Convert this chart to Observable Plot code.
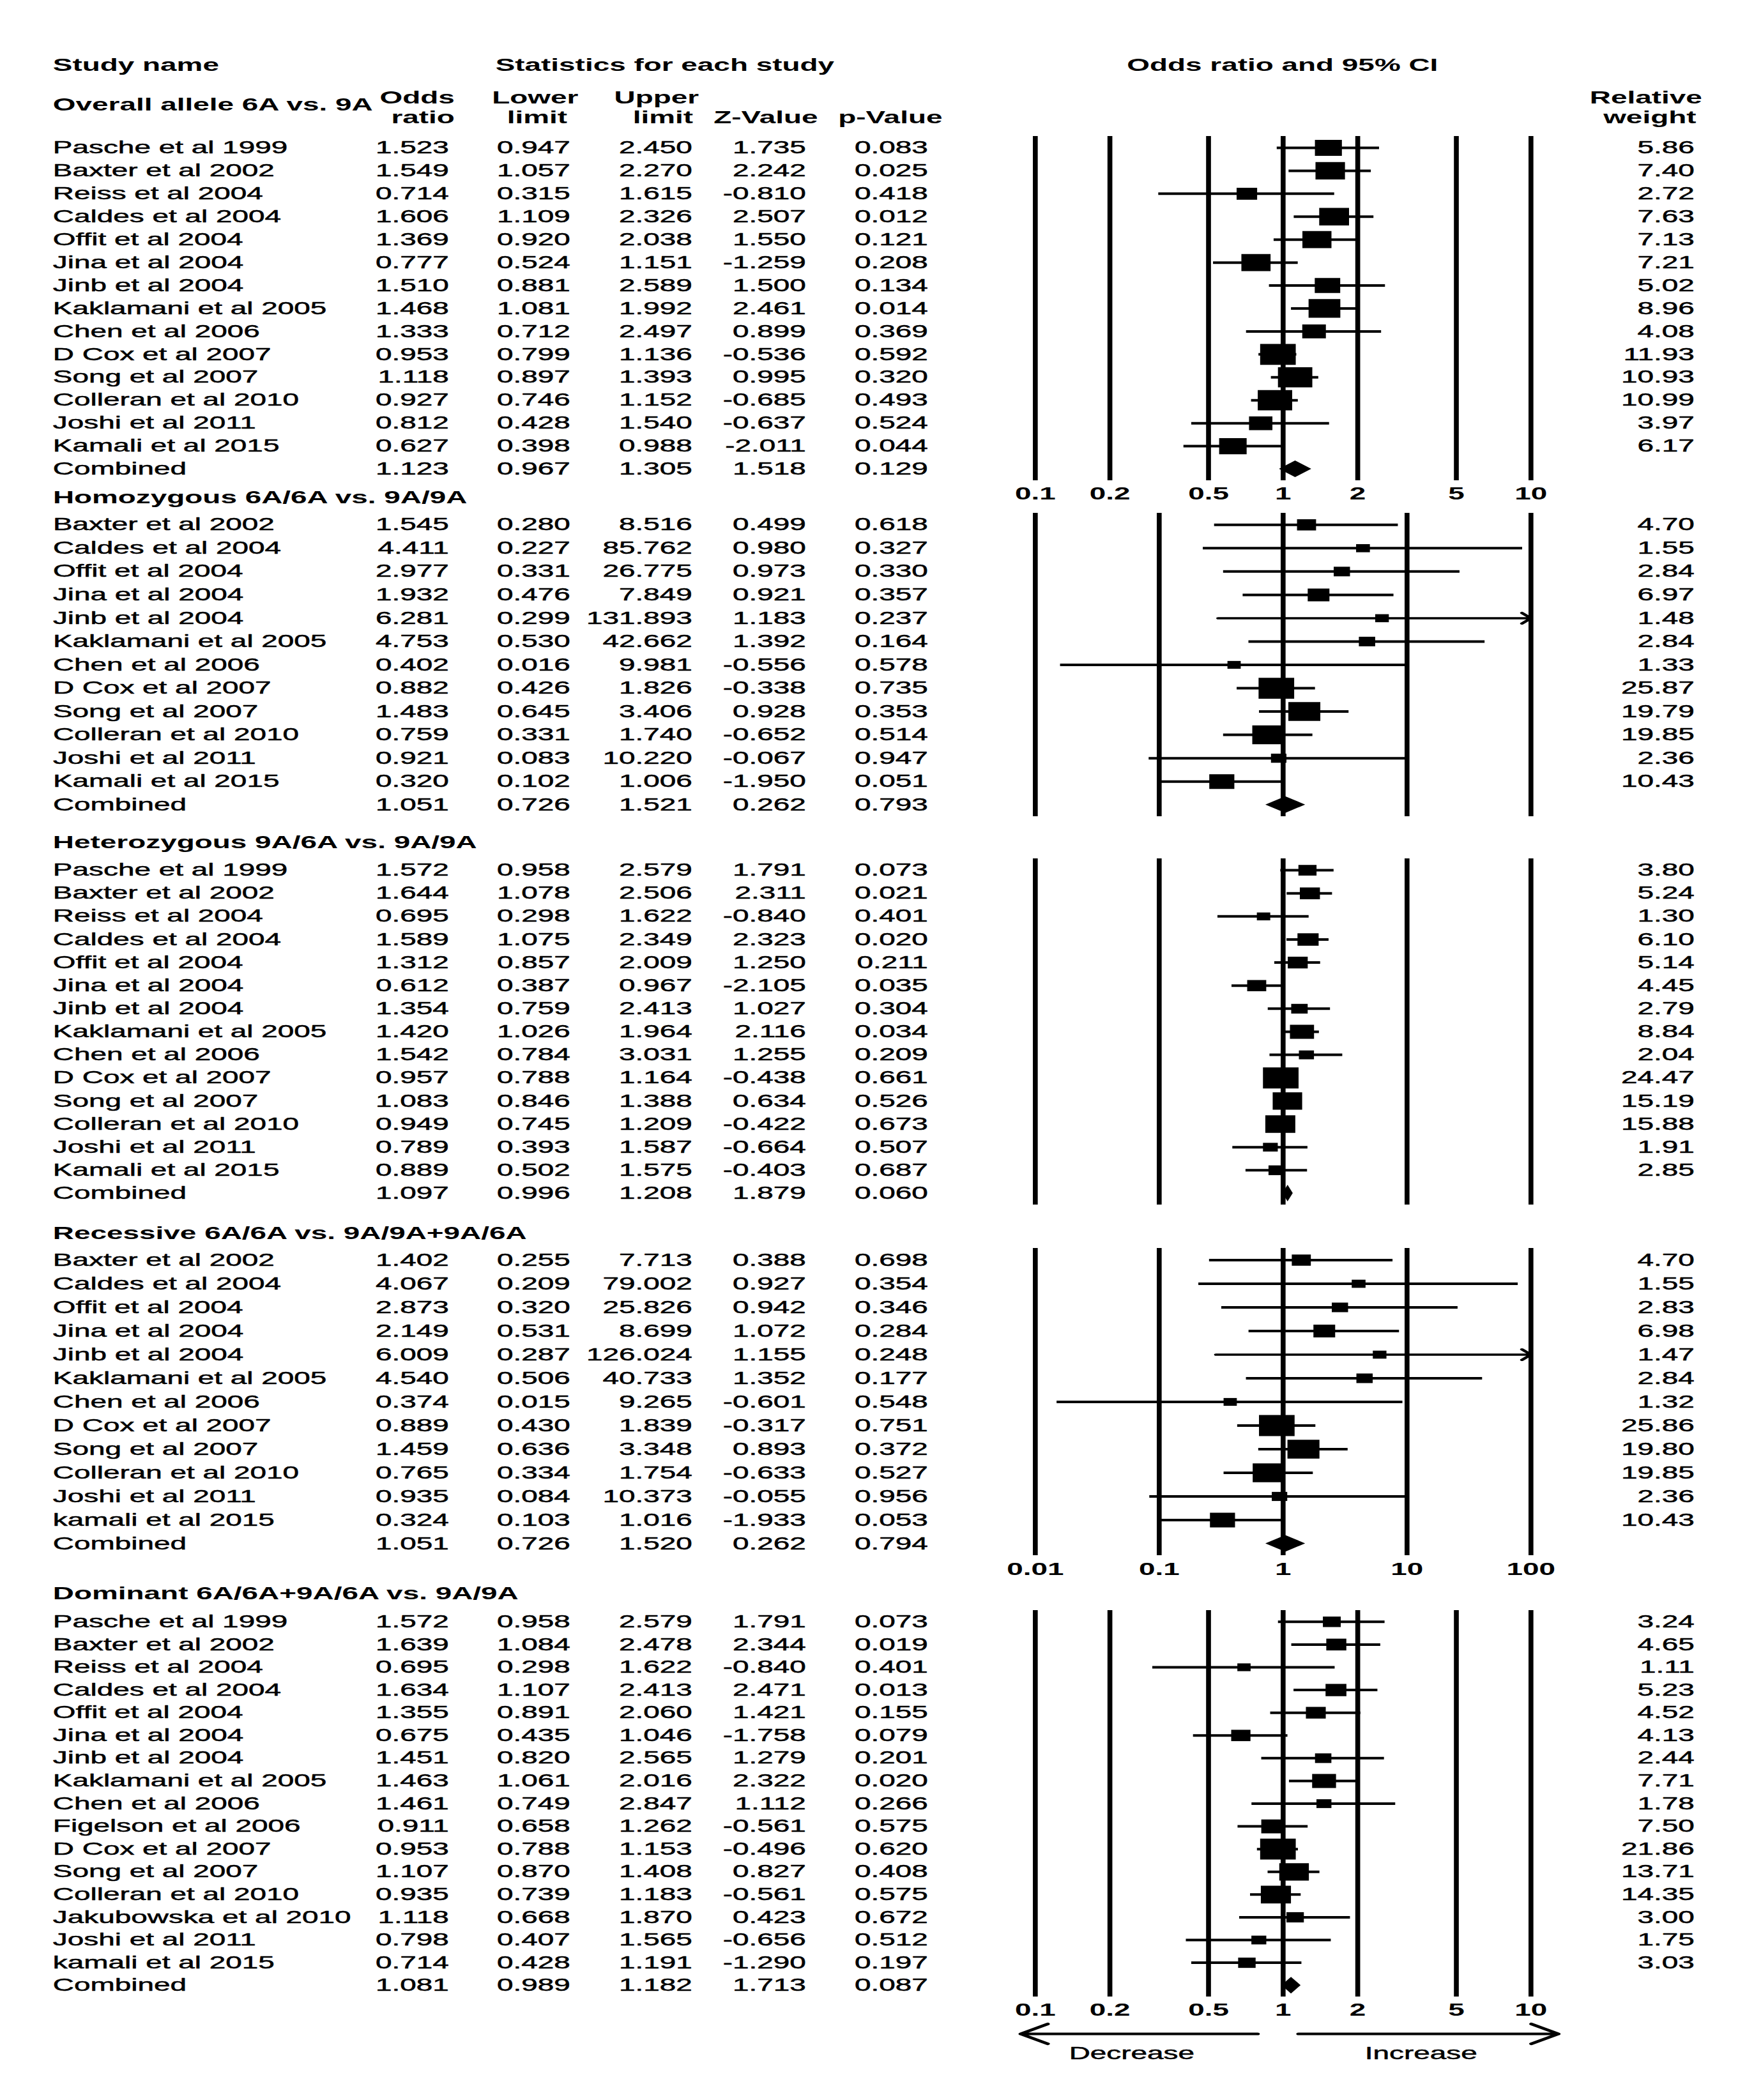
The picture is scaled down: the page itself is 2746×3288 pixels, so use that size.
<!DOCTYPE html>
<html><head><meta charset="utf-8">
<script src="https://cdn.jsdelivr.net/npm/d3@7"></script>
<script src="https://cdn.jsdelivr.net/npm/@observablehq/plot@0.6"></script>
<style>
html,body{margin:0;padding:0;background:#fff;overflow:hidden;width:2746px;height:3288px;}
#fig{position:relative;height:3288px;transform-origin:0 0;}
.sec{position:absolute;left:0;}
</style></head><body><div id="fig"></div>
<script>
// ---------------- DATA ----------------
const headerStudy = "Study name";
const headerStats = "Statistics for each study";
const headerForest = "Odds ratio and 95% CI";
const colHeads = [["Odds", "ratio"], ["Lower", "limit"], ["Upper", "limit"], ["", "Z-Value"], ["", "p-Value"]];
const weightHead = ["Relative", "weight"];
const titles = ["Overall allele 6A vs. 9A", "Homozygous 6A/6A vs. 9A/9A", "Heterozygous 9A/6A vs. 9A/9A",
  "Recessive 6A/6A vs. 9A/9A+9A/6A", "Dominant 6A/6A+9A/6A vs. 9A/9A"];
const ticksNarrow = [0.1, 0.2, 0.5, 1, 2, 5, 10];
const ticksWide = [0.01, 0.1, 1, 10, 100];
const directionLabels = ["Decrease", "Increase"];

const names1 = ["Pasche et al 1999","Baxter et al 2002","Reiss et al 2004","Caldes et al 2004","Offit et al 2004","Jina et al 2004","Jinb et al 2004","Kaklamani et al 2005","Chen et al 2006","D Cox et al 2007","Song et al 2007","Colleran et al 2010","Joshi et al 2011","Kamali et al 2015","Combined"];
const or1 = [1.523,1.549,0.714,1.606,1.369,0.777,1.510,1.468,1.333,0.953,1.118,0.927,0.812,0.627,1.123];
const lo1 = [0.947,1.057,0.315,1.109,0.920,0.524,0.881,1.081,0.712,0.799,0.897,0.746,0.428,0.398,0.967];
const hi1 = [2.450,2.270,1.615,2.326,2.038,1.151,2.589,1.992,2.497,1.136,1.393,1.152,1.540,0.988,1.305];
const z1 = [1.735,2.242,-0.810,2.507,1.550,-1.259,1.500,2.461,0.899,-0.536,0.995,-0.685,-0.637,-2.011,1.518];
const p1 = [0.083,0.025,0.418,0.012,0.121,0.208,0.134,0.014,0.369,0.592,0.320,0.493,0.524,0.044,0.129];
const w1 = [5.86,7.40,2.72,7.63,7.13,7.21,5.02,8.96,4.08,11.93,10.93,10.99,3.97,6.17];

const names2 = ["Baxter et al 2002","Caldes et al 2004","Offit et al 2004","Jina et al 2004","Jinb et al 2004","Kaklamani et al 2005","Chen et al 2006","D Cox et al 2007","Song et al 2007","Colleran et al 2010","Joshi et al 2011","Kamali et al 2015","Combined"];
const or2 = [1.545,4.411,2.977,1.932,6.281,4.753,0.402,0.882,1.483,0.759,0.921,0.320,1.051];
const lo2 = [0.280,0.227,0.331,0.476,0.299,0.530,0.016,0.426,0.645,0.331,0.083,0.102,0.726];
const hi2 = [8.516,85.762,26.775,7.849,131.893,42.662,9.981,1.826,3.406,1.740,10.220,1.006,1.521];
const z2 = [0.499,0.980,0.973,0.921,1.183,1.392,-0.556,-0.338,0.928,-0.652,-0.067,-1.950,0.262];
const p2 = [0.618,0.327,0.330,0.357,0.237,0.164,0.578,0.735,0.353,0.514,0.947,0.051,0.793];
const w2 = [4.70,1.55,2.84,6.97,1.48,2.84,1.33,25.87,19.79,19.85,2.36,10.43];

const names3 = ["Pasche et al 1999","Baxter et al 2002","Reiss et al 2004","Caldes et al 2004","Offit et al 2004","Jina et al 2004","Jinb et al 2004","Kaklamani et al 2005","Chen et al 2006","D Cox et al 2007","Song et al 2007","Colleran et al 2010","Joshi et al 2011","Kamali et al 2015","Combined"];
const or3 = [1.572,1.644,0.695,1.589,1.312,0.612,1.354,1.420,1.542,0.957,1.083,0.949,0.789,0.889,1.097];
const lo3 = [0.958,1.078,0.298,1.075,0.857,0.387,0.759,1.026,0.784,0.788,0.846,0.745,0.393,0.502,0.996];
const hi3 = [2.579,2.506,1.622,2.349,2.009,0.967,2.413,1.964,3.031,1.164,1.388,1.209,1.587,1.575,1.208];
const z3 = [1.791,2.311,-0.840,2.323,1.250,-2.105,1.027,2.116,1.255,-0.438,0.634,-0.422,-0.664,-0.403,1.879];
const p3 = [0.073,0.021,0.401,0.020,0.211,0.035,0.304,0.034,0.209,0.661,0.526,0.673,0.507,0.687,0.060];
const w3 = [3.80,5.24,1.30,6.10,5.14,4.45,2.79,8.84,2.04,24.47,15.19,15.88,1.91,2.85];

const names4 = ["Baxter et al 2002","Caldes et al 2004","Offit et al 2004","Jina et al 2004","Jinb et al 2004","Kaklamani et al 2005","Chen et al 2006","D Cox et al 2007","Song et al 2007","Colleran et al 2010","Joshi et al 2011","kamali et al 2015","Combined"];
const or4 = [1.402,4.067,2.873,2.149,6.009,4.540,0.374,0.889,1.459,0.765,0.935,0.324,1.051];
const lo4 = [0.255,0.209,0.320,0.531,0.287,0.506,0.015,0.430,0.636,0.334,0.084,0.103,0.726];
const hi4 = [7.713,79.002,25.826,8.699,126.024,40.733,9.265,1.839,3.348,1.754,10.373,1.016,1.520];
const z4 = [0.388,0.927,0.942,1.072,1.155,1.352,-0.601,-0.317,0.893,-0.633,-0.055,-1.933,0.262];
const p4 = [0.698,0.354,0.346,0.284,0.248,0.177,0.548,0.751,0.372,0.527,0.956,0.053,0.794];
const w4 = [4.70,1.55,2.83,6.98,1.47,2.84,1.32,25.86,19.80,19.85,2.36,10.43];

const names5 = ["Pasche et al 1999","Baxter et al 2002","Reiss et al 2004","Caldes et al 2004","Offit et al 2004","Jina et al 2004","Jinb et al 2004","Kaklamani et al 2005","Chen et al 2006","Figelson et al 2006","D Cox et al 2007","Song et al 2007","Colleran et al 2010","Jakubowska et al 2010","Joshi et al 2011","kamali et al 2015","Combined"];
const or5 = [1.572,1.639,0.695,1.634,1.355,0.675,1.451,1.463,1.461,0.911,0.953,1.107,0.935,1.118,0.798,0.714,1.081];
const lo5 = [0.958,1.084,0.298,1.107,0.891,0.435,0.820,1.061,0.749,0.658,0.788,0.870,0.739,0.668,0.407,0.428,0.989];
const hi5 = [2.579,2.478,1.622,2.413,2.060,1.046,2.565,2.016,2.847,1.262,1.153,1.408,1.183,1.870,1.565,1.191,1.182];
const z5 = [1.791,2.344,-0.840,2.471,1.421,-1.758,1.279,2.322,1.112,-0.561,-0.496,0.827,-0.561,0.423,-0.656,-1.290,1.713];
const p5 = [0.073,0.019,0.401,0.013,0.155,0.079,0.201,0.020,0.266,0.575,0.620,0.408,0.575,0.672,0.512,0.197,0.087];
const w5 = [3.24,4.65,1.11,5.23,4.52,4.13,2.44,7.71,1.78,7.50,21.86,13.71,14.35,3.00,1.75,3.03];

// ---------------- LAYOUT ----------------
const S = 1.7;               // horizontal stretch of the original figure
const W = 2746 / S;          // unstretched width
const FONT = "'Liberation Sans', Arial, Helvetica, sans-serif";
const FS = 27;
const panelL = 1620, panelR = 2396;
const colRight = {or: 702, lo: 892, hi: 1083, z: 1261, p: 1452};
const nameX = 82, weightRight = 2652;
const heavy = {fill: "black", stroke: "black", strokeWidth: 0.5};   // the original's body text is slightly heavier

const fig = document.getElementById("fig");
fig.style.width = W + "px";
fig.style.transform = `scaleX(${S})`;

function section(cfg) {
  const {names, or, lo, hi, z, p, w, ticks, top, height, lineTop, lineBottom, title, titleY, axisY, extra} = cfg;
  const n = names.length;
  const ml = panelL / S, mr = W - panelR / S;
  const step = (lineBottom - lineTop) / n;
  const rows = names.map((name, i) => ({name, i, or: or[i], lo: lo[i], hi: hi[i], z: z[i], p: p[i], w: w[i]}));
  const studies = rows.filter(d => d.w !== undefined);
  const combined = rows.filter(d => d.w === undefined);
  const xmin = ticks[0], xmax = ticks[ticks.length - 1];
  const inside = studies.filter(d => d.hi <= xmax);
  const over = studies.filter(d => d.hi > xmax);
  const dh = 13 / step;
  const diamond = combined.flatMap(d => [
    {y: d.i - dh, x1: d.or, x2: d.or},
    {y: d.i, x1: d.lo, x2: d.hi},
    {y: d.i + dh, x1: d.or, x2: d.or}
  ]);
  const colX = full => full / S - ml;
  const txt = {fontSize: FS, frameAnchor: "left", lineAnchor: "middle", y: "i", ...heavy};
  const ctx = {colX, lineTop, lineBottom, n, step};
  const marks = [
    Plot.ruleX(ticks, {x: d => d, strokeWidth: 4.5}),
    Plot.ruleY(inside, {y: "i", x1: "lo", x2: "hi", strokeWidth: 4}),
    Plot.arrow(over, {x1: "lo", x2: () => xmax, y1: "i", y2: "i", strokeWidth: 3.5, headLength: 5, headAngle: 90}),
    Plot.dot(studies, {x: "or", y: "i", r: "w", symbol: "square", fill: "black", stroke: null}),
    Plot.areaX(diamond, {y: "y", x1: "x1", x2: "x2", fill: "black"}),
    Plot.text(rows, {...txt, text: "name", dx: colX(nameX), textAnchor: "start"}),
    ...Object.keys(colRight).map(k =>
      Plot.text(rows, {...txt, text: d => d[k].toFixed(3), dx: colX(colRight[k]), textAnchor: "end"})),
    Plot.text(studies, {...txt, text: d => d.w.toFixed(2), dx: colX(weightRight), textAnchor: "end"}),
    Plot.text([title], {text: d => d, frameAnchor: "top-left", lineAnchor: "middle", dx: colX(nameX), dy: titleY - lineTop,
      textAnchor: "start", fontWeight: "bold", fontSize: FS})
  ];
  if (axisY) marks.push(Plot.text(ticks, {x: d => d, text: d => String(d), frameAnchor: "bottom", lineAnchor: "middle",
    dy: axisY - lineBottom, fontWeight: "bold", fontSize: FS}));
  if (extra) marks.push(...extra(ctx));
  const chart = Plot.plot({
    width: W, height,
    marginLeft: ml, marginRight: mr,
    marginTop: lineTop - top, marginBottom: top + height - lineBottom,
    x: {type: "log", domain: [xmin, xmax], axis: null},
    y: {type: "linear", domain: [-0.5, n - 0.5], reverse: true, axis: null},
    r: {type: "pow", exponent: 0.5, domain: [0, d3.max(w)], range: [3.5, 18.5]},
    style: {background: "transparent", overflow: "visible", fontFamily: FONT, fontSize: FS + "px", color: "black"},
    marks
  });
  const div = document.createElement("div");
  div.className = "sec";
  div.style.top = top + "px";
  div.style.width = W + "px";
  div.appendChild(chart);
  fig.appendChild(div);
}

function hdr(ctx, label, xFull, yFull, anchor) {
  return Plot.text([label], {text: d => d, frameAnchor: "top-left", lineAnchor: "middle", dx: ctx.colX(xFull), dy: yFull - ctx.lineTop,
    textAnchor: anchor, fontWeight: "bold", fontSize: FS});
}

section({names: names1, or: or1, lo: lo1, hi: hi1, z: z1, p: p1, w: w1, ticks: ticksNarrow,
  top: 0, height: 800, lineTop: 213, lineBottom: 752, title: titles[0], titleY: 164, axisY: 773,
  extra: ctx => [
    hdr(ctx, headerStudy, 82, 102, "start"),
    hdr(ctx, headerStats, 1040, 102, "middle"),
    hdr(ctx, headerForest, 2007, 102, "middle"),
    hdr(ctx, colHeads[0][0], 711, 153, "end"), hdr(ctx, colHeads[0][1], 711, 184, "end"),
    hdr(ctx, colHeads[1][0], 837, 153, "middle"), hdr(ctx, colHeads[1][1], 840, 184, "middle"),
    hdr(ctx, colHeads[2][0], 1027, 153, "middle"), hdr(ctx, colHeads[2][1], 1037, 184, "middle"),
    hdr(ctx, colHeads[3][1], 1198, 184, "middle"),
    hdr(ctx, colHeads[4][1], 1393, 184, "middle"),
    hdr(ctx, weightHead[0], 2576, 153, "middle"), hdr(ctx, weightHead[1], 2582, 184, "middle")
  ]});

section({names: names2, or: or2, lo: lo2, hi: hi2, z: z2, p: p2, w: w2, ticks: ticksWide,
  top: 760, height: 540, lineTop: 803, lineBottom: 1278, title: titles[1], titleY: 779});

section({names: names3, or: or3, lo: lo3, hi: hi3, z: z3, p: p3, w: w3, ticks: ticksWide,
  top: 1300, height: 605, lineTop: 1344, lineBottom: 1886, title: titles[2], titleY: 1319});

section({names: names4, or: or4, lo: lo4, hi: hi4, z: z4, p: p4, w: w4, ticks: ticksWide,
  top: 1905, height: 570, lineTop: 1954, lineBottom: 2435, title: titles[3], titleY: 1931, axisY: 2457});

section({names: names5, or: or5, lo: lo5, hi: hi5, z: z5, p: p5, w: w5, ticks: ticksNarrow,
  top: 2475, height: 813, lineTop: 2521, lineBottom: 3126, title: titles[4], titleY: 2495, axisY: 3147,
  extra: ctx => {
    const yArrow = ctx.n - 0.5 + (3184 - ctx.lineBottom) / ctx.step;
    const arrows = [{x1: 0.789, x2: 0.0873}, {x1: 1.153, x2: 12.9}];
    const labelPos = [0.245, 3.6];
    return [
      Plot.arrow(arrows, {x1: "x1", x2: "x2", y1: () => yArrow, y2: () => yArrow, strokeWidth: 4, headLength: 11, headAngle: 64}),
      Plot.text(directionLabels, {x: (d, i) => labelPos[i], text: d => d, frameAnchor: "bottom", lineAnchor: "middle",
        dy: 3215 - ctx.lineBottom, fontSize: FS, ...heavy})
    ];
  }});
</script></body></html>
